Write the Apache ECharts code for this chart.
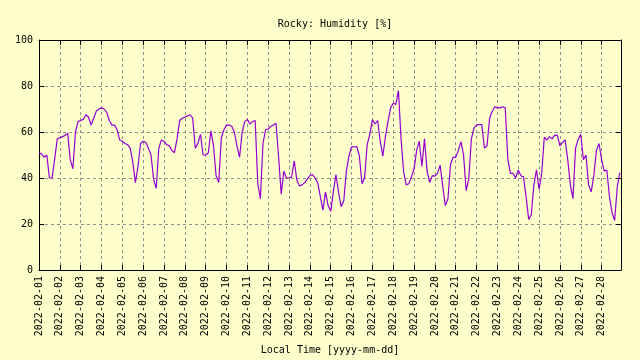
<!DOCTYPE html>
<html>
<head>
<meta charset="utf-8">
<script src="https://cdn.jsdelivr.net/npm/echarts@6/dist/echarts.min.js"></script>
<style>
html,body{margin:0;padding:0;background:#ffffcc;}
#chart{width:640px;height:360px;}
</style>
</head>
<body>
<div id="chart"></div>
<script>
const titleText = 'Rocky: Humidity [%]';
const xAxisName = 'Local Time [yyyy-mm-dd]';
const startTime = Date.UTC(2022, 1, 1);
const endTime = Date.UTC(2022, 1, 28, 22, 20);
const stepHours = 3;
const tickLabels = [
  '2022-02-01','2022-02-02','2022-02-03','2022-02-04','2022-02-05','2022-02-06','2022-02-07',
  '2022-02-08','2022-02-09','2022-02-10','2022-02-11','2022-02-12','2022-02-13','2022-02-14',
  '2022-02-15','2022-02-16','2022-02-17','2022-02-18','2022-02-19','2022-02-20','2022-02-21',
  '2022-02-22','2022-02-23','2022-02-24','2022-02-25','2022-02-26','2022-02-27','2022-02-28'
];
const yTicks = [0, 20, 40, 60, 80, 100];
// humidity [%], one value every 3 hours, 8 per day
const humidity = [
  51, 50.5, 49, 50, 40, 40, 48, 57,
  57.5, 58, 58.5, 59.5, 48, 44, 60, 64.5,
  65, 65.5, 67.5, 66.5, 63, 66, 69, 70,
  70.5, 70, 68.5, 65, 63, 63, 61, 56.5,
  56, 55, 54.5, 53, 47, 38, 45, 55,
  56, 55.5, 53, 50, 39.5, 35.5, 53, 56.5,
  56, 54.5, 54, 52, 51, 57, 65, 66,
  66.5, 67, 67.5, 66, 53, 55, 59, 50,
  50, 51, 60.5, 54, 41, 38, 57.5, 61,
  63, 63, 62.5, 60, 54, 49, 60, 64.5,
  65.5, 63.5, 64.5, 65, 37.5, 31, 55, 61,
  61.3, 62.5, 63, 63.8, 49, 33, 43, 40,
  40, 40.5, 47.5, 39, 36.5, 37, 38, 39.5,
  41, 41.5, 40, 38, 32, 26, 34, 28,
  25.5, 34, 41.5, 34, 27.5, 30, 43, 49.5,
  53.5, 53.5, 53.7, 49.5, 37.5, 40, 54.5, 59,
  65.4, 63.5, 65, 56, 49.5, 58, 64.5, 70.5,
  72.5, 72, 78, 57, 42.5, 37, 37.5, 40.5,
  44, 52, 56, 45, 57, 43, 38, 41,
  40.8, 42, 45.6, 36.5, 28, 31, 46, 49,
  49, 52, 55.8, 50, 34.5, 39.5, 57, 61.8,
  63, 63.2, 63.2, 53, 54, 66, 69, 71,
  70.5, 70.5, 71, 70.5, 48, 42, 42, 40,
  43.5, 41, 40.5, 32, 22, 24, 37, 43.5,
  35, 42, 57.8, 56.5, 58, 57, 58.6, 58.5,
  54, 55.5, 56.5, 48, 37, 31, 53, 56.8,
  59, 48, 50, 37, 34, 40.8, 52, 55,
  48, 43, 43.5, 32, 25, 21.5, 36, 42.3
];

const DAY = 86400000;
const seriesData = humidity.map((v, i) => [startTime + i * stepHours * 3600000, v]);
const font = 'DejaVu Sans Mono';

function dayLabel(v) {
  const i = Math.round((v - startTime) / DAY);
  if (Math.abs(v - startTime - i * DAY) > 1000) return '';
  return tickLabels[i] || '';
}

const gridLine = { show: true, lineStyle: { color: '#909090', type: [3, 3], width: 1 } };
const blackLine = { show: true, lineStyle: { color: '#000', width: 1 } };

const chart = echarts.init(document.getElementById('chart'), null, { renderer: 'canvas' });
chart.setOption({
  backgroundColor: '#ffffcc',
  animation: false,
  title: {
    text: titleText,
    left: 330,
    top: 14,
    textAlign: 'center',
    textStyle: { fontFamily: font, fontSize: 10, fontWeight: 'normal', color: '#000' }
  },
  grid: { left: 39, right: 19, top: 40, bottom: 89, containLabel: false },
  xAxis: [
    {
      type: 'value',
      min: startTime,
      max: endTime,
      interval: DAY,
      position: 'bottom',
      axisLine: blackLine,
      axisTick: { show: true, inside: true, length: 5, lineStyle: { color: '#000' } },
      splitLine: gridLine,
      axisLabel: {
        rotate: 90,
        margin: 6,
        fontFamily: font,
        fontSize: 10,
        color: '#000',
        showMaxLabel: false,
        formatter: dayLabel
      },
      name: xAxisName,
      nameLocation: 'middle',
      nameGap: 75,
      nameTextStyle: { fontFamily: font, fontSize: 10, color: '#000' }
    },
    {
      type: 'value',
      min: startTime,
      max: endTime,
      interval: DAY,
      position: 'top',
      axisLine: Object.assign({ onZero: false }, blackLine),
      axisTick: { show: true, inside: true, length: 5, lineStyle: { color: '#000' } },
      splitLine: { show: false },
      axisLabel: { show: false }
    }
  ],
  yAxis: [
    {
      type: 'value',
      min: yTicks[0],
      max: yTicks[yTicks.length - 1],
      interval: 20,
      position: 'left',
      axisLine: blackLine,
      axisTick: { show: true, inside: true, length: 5, lineStyle: { color: '#000' } },
      splitLine: gridLine,
      axisLabel: { margin: 6, fontFamily: font, fontSize: 10, color: '#000' }
    },
    {
      type: 'value',
      min: yTicks[0],
      max: yTicks[yTicks.length - 1],
      interval: 20,
      position: 'right',
      axisLine: Object.assign({ onZero: false }, blackLine),
      axisTick: { show: true, inside: true, length: 5, lineStyle: { color: '#000' } },
      splitLine: { show: false },
      axisLabel: { show: false }
    }
  ],
  series: [
    {
      type: 'line',
      xAxisIndex: 0,
      yAxisIndex: 0,
      data: seriesData,
      showSymbol: false,
      symbol: 'none',
      lineStyle: { color: '#9400d3', width: 1.2 },
      itemStyle: { color: '#9400d3' }
    }
  ]
});
</script>
</body>
</html>
